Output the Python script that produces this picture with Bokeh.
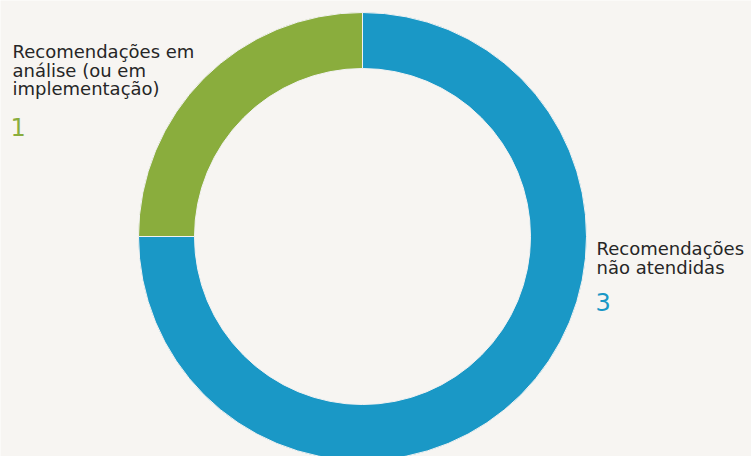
from math import pi
from bokeh.plotting import figure
from bokeh.models import Range1d, ColumnDataSource
from bokeh.core.properties import value
from bokeh.embed import file_html
from bokeh.resources import INLINE

# Data
categories = ["Recomendações em análise (ou em implementação)", "Recomendações não atendidas"]
counts = [1, 3]
colors = ["#8aad3d", "#1a98c6"]
left_label_lines = ["Recomendações em", "análise (ou em", "implementação)"]
right_label_lines = ["Recomendações", "não atendidas"]

BG = "#f7f5f2"
W, H = 751, 456

p = figure(width=W, height=H, output_backend="svg", toolbar_location=None,
           x_range=Range1d(0, W), y_range=Range1d(-H, 0),
           min_border=0, background_fill_color=BG, border_fill_color=BG)
p.axis.visible = False
p.grid.visible = False
p.outline_line_color = None

# Donut geometry (pixel-based data units)
cx, cy = 362, -236
r_out, r_in = 224, 168

total = sum(counts)
starts, ends = [], []
a = pi / 2
for c in counts:
    starts.append(a)
    a += c / total * 2 * pi
    ends.append(a)

src = ColumnDataSource(dict(start=starts, end=ends, color=colors, cat=categories))
p.annular_wedge(x=cx, y=cy, inner_radius=r_in, outer_radius=r_out,
                start_angle="start", end_angle="end", fill_color="color",
                line_color="#f2f2f2", line_width=1, source=src)

font = value("DejaVu Sans")
lh = 18.6
txt_color = "#262626"

# Left label
lx = 12
ly0 = -51
p.text(x=[lx] * len(left_label_lines), y=[ly0 - i * lh for i in range(len(left_label_lines))],
       text=left_label_lines, text_font=font, text_font_size="18px",
       text_color=txt_color, text_baseline="alphabetic", text_align="left")
p.text(x=[lx - 2], y=[-126], text=[str(counts[0])], text_font=font, text_font_size="24px",
       text_color=colors[0], text_baseline="alphabetic", text_align="left")

# Right label
rx = 596
ry0 = -248
p.text(x=[rx] * len(right_label_lines), y=[ry0 - i * lh for i in range(len(right_label_lines))],
       text=right_label_lines, text_font=font, text_font_size="18px",
       text_color=txt_color, text_baseline="alphabetic", text_align="left")
p.text(x=[rx - 1], y=[-301], text=[str(counts[1])], text_font=font, text_font_size="24px",
       text_color=colors[1], text_baseline="alphabetic", text_align="left")

open("out.html", "w").write(file_html(p, INLINE))
